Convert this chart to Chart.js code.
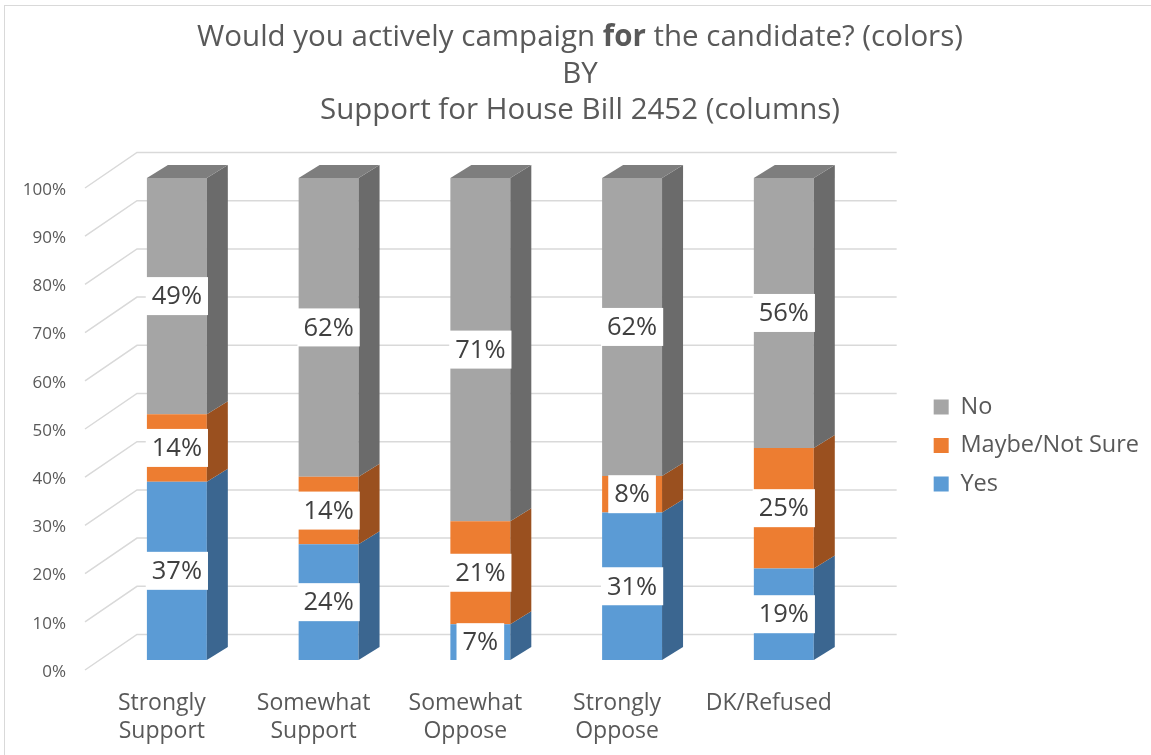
<!DOCTYPE html>
<html>
<head>
<meta charset="utf-8">
<title>Campaign for the candidate by support for House Bill 2452</title>
<script src="https://cdn.jsdelivr.net/npm/chart.js@4.4.1/dist/chart.umd.min.js"></script>
<style>
    html, body { margin: 0; padding: 0; background: #fff; }
    #wrap { position: relative; width: 1151px; height: 755px; }
    #frame {
        position: absolute; left: 4px; top: 5px; right: 0; bottom: 0;
        border-left: 1px solid #d9d9d9; border-top: 1px solid #d9d9d9;
        pointer-events: none;
    }
</style>
</head>
<body>
<div id="wrap">
    <canvas id="chart" width="1151" height="755"></canvas>
    <div id="frame"></div>
</div>
<script>
// ---------------- Daten ----------------
const categories = [["Strongly", "Support"], ["Somewhat", "Support"], ["Somewhat", "Oppose"], ["Strongly", "Oppose"], "DK/Refused"];
const seriesNames = ["Yes", "Maybe/Not Sure", "No"];
const yesValues   = [37, 24, 7.4, 30.6, 19];
const maybeValues = [14, 14, 21.4, 7.6, 25];
const noValues    = [49, 62, 71.2, 61.8, 56];
const titleLines = [
    [["Would you actively campaign ", false], ["for", true], [" the candidate? (colors)", false]],
    [["BY", false]],
    [["Support for House Bill 2452 (columns)", false]]
];

const FONT = "'Open Sans', 'Noto Sans', sans-serif";
const TEXT = "#595959";
const DEPTH_X = 21, DEPTH_Y = 13;

// Seiten- und Deckflächen (dunkler als die Front)
const sideColors = ["#3B6690", "#9A501F", "#6B6B6B"];
const topColor = "#7E7E7E";

// ---------------- Plugins ----------------
const titlePlugin = {
    id: "titleLines",
    afterDraw(chart) {
        const ctx = chart.ctx;
        const cx = 580;
        const ys = [38, 75, 111];
        ctx.save();
        ctx.fillStyle = TEXT;
        ctx.textBaseline = "middle";
        ctx.textAlign = "left";
        titleLines.forEach((parts, i) => {
            let total = 0;
            parts.forEach(([t, bold]) => {
                ctx.font = (bold ? "bold " : "") + "29.5px " + FONT;
                total += ctx.measureText(t).width;
            });
            let x = cx - total / 2;
            parts.forEach(([t, bold]) => {
                ctx.font = (bold ? "bold " : "") + "29.5px " + FONT;
                ctx.fillText(t, x, ys[i]);
                x += ctx.measureText(t).width;
            });
        });
        ctx.restore();
    }
};

// Legende rechts neben der Rückwand platzieren
const legendShift = {
    id: "legendShift",
    afterLayout(chart) {
        const lg = chart.legend;
        const dx = chart.chartArea.right + 59 - lg.left;
        lg.left += dx; lg.right += dx;
        lg.top -= 21; lg.bottom -= 21;
    }
};

// Rückwand-Gitter mit schrägem Boden-Anschluss
const gridPlugin = {
    id: "wallGrid",
    beforeDatasetsDraw(chart) {
        const { ctx, chartArea } = chart;
        const y = chart.scales.y;
        ctx.save();
        ctx.strokeStyle = "#d9d9d9";
        ctx.lineWidth = 1.5;
        y.ticks.forEach(t => {
            const py = y.getPixelForValue(t.value);
            ctx.beginPath();
            ctx.moveTo(chartArea.left - 16, py + 10);
            ctx.lineTo(chartArea.left + 36, py - 25.5);
            ctx.lineTo(chartArea.right + 37, py - 25.5);
            ctx.stroke();
        });
        ctx.restore();
    }
};

// 3D-Seitenflächen + weiße Wertelabels
const depthPlugin = {
    id: "depth3d",
    afterDatasetsDraw(chart) {
        const ctx = chart.ctx;
        const last = chart.data.datasets.length - 1;
        ctx.save();
        chart.data.datasets.forEach((ds, di) => {
            const meta = chart.getDatasetMeta(di);
            meta.data.forEach(el => {
                const { x, y, base, width } = el.getProps(["x", "y", "base", "width"], true);
                const r = x + width / 2;
                const l = x - width / 2;
                ctx.fillStyle = sideColors[di];
                ctx.beginPath();
                ctx.moveTo(r, y);
                ctx.lineTo(r + DEPTH_X, y - DEPTH_Y);
                ctx.lineTo(r + DEPTH_X, base - DEPTH_Y);
                ctx.lineTo(r, base);
                ctx.closePath();
                ctx.fill();
                if (di === last) {
                    ctx.fillStyle = topColor;
                    ctx.beginPath();
                    ctx.moveTo(l, y);
                    ctx.lineTo(l + DEPTH_X, y - DEPTH_Y);
                    ctx.lineTo(r + DEPTH_X, y - DEPTH_Y);
                    ctx.lineTo(r, y);
                    ctx.closePath();
                    ctx.fill();
                }
            });
        });

        ctx.font = "25.5px " + FONT;
        ctx.textAlign = "center";
        ctx.textBaseline = "middle";
        chart.data.datasets.forEach((ds, di) => {
            const meta = chart.getDatasetMeta(di);
            meta.data.forEach((el, i) => {
                const { x, y, base } = el.getProps(["x", "y", "base"], true);
                const label = Math.round(ds.data[i]) + "%";
                const w = ctx.measureText(label).width + 12;
                const h = 38;
                const cy = (y + base) / 2;
                ctx.fillStyle = "#fff";
                ctx.fillRect(x - w / 2, cy - h / 2, w, h);
                ctx.fillStyle = "#404040";
                ctx.fillText(label, x, cy + 1);
            });
        });
        ctx.restore();
    }
};

// ---------------- Diagramm ----------------
const ctx = document.getElementById("chart").getContext("2d");

new Chart(ctx, {
    type: "bar",
    data: {
        labels: categories,
        datasets: [
            { label: seriesNames[0], data: yesValues,   backgroundColor: "#5B9BD5" },
            { label: seriesNames[1], data: maybeValues, backgroundColor: "#ED7D31" },
            { label: seriesNames[2], data: noValues,    backgroundColor: "#A5A5A5" }
        ]
    },
    options: {
        responsive: false,
        animation: false,
        layout: { padding: { top: 178, left: 21, right: 61, bottom: 0 } },
        datasets: {
            bar: { barPercentage: 0.395, categoryPercentage: 1, borderWidth: 0 }
        },
        plugins: {
            title: { display: false },
            tooltip: { enabled: false },
            legend: {
                position: "right",
                reverse: true,
                labels: {
                    boxWidth: 15,
                    boxHeight: 15,
                    padding: 15,
                    color: TEXT,
                    font: { family: FONT, size: 23.5 }
                }
            }
        },
        scales: {
            x: {
                stacked: true,
                grid: { display: false, drawTicks: false },
                border: { display: false },
                ticks: {
                    color: TEXT,
                    font: { family: FONT, size: 23, lineHeight: 1.24 },
                    padding: 29,
                    labelOffset: -15,
                    maxRotation: 0,
                    autoSkip: false
                },
                afterFit(s) { s.height = 95; }
            },
            y: {
                stacked: true,
                min: 0,
                max: 100,
                grid: { display: false, drawTicks: false },
                border: { display: false },
                ticks: {
                    stepSize: 10,
                    color: TEXT,
                    font: { family: FONT, size: 17 },
                    padding: 35,
                    labelOffset: 12,
                    callback: v => v + "%"
                },
                afterFit(s) { s.width = 80; }
            }
        }
    },
    plugins: [legendShift, gridPlugin, depthPlugin, titlePlugin]
});
</script>
</body>
</html>
